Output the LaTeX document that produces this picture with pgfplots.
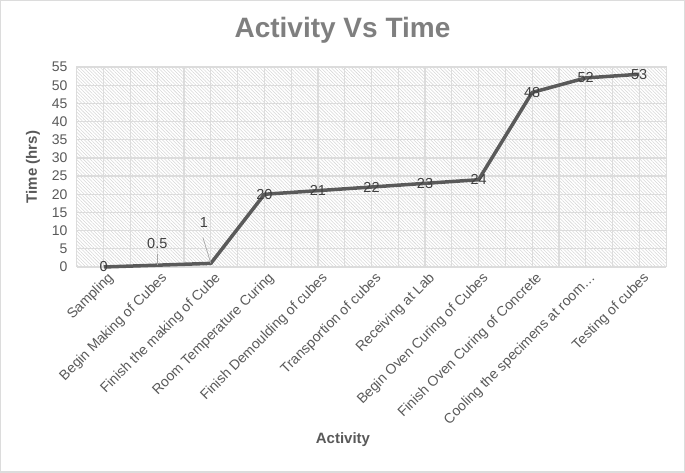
\documentclass[border=0pt]{standalone}
\usepackage{fontspec}
\setmainfont{Liberation Sans}
\usepackage{pgfplots}
\pgfplotsset{compat=1.18}
\usetikzlibrary{patterns.meta}
\definecolor{txt}{HTML}{595959}
\definecolor{ttl}{HTML}{7F7F7F}
\definecolor{grd}{HTML}{DCDCDC}
\definecolor{hatch}{HTML}{D6D6D6}
\definecolor{ln}{HTML}{5A5A5A}
\definecolor{lbl}{HTML}{404040}
\begin{document}
\begin{tikzpicture}[x=1pt,y=1pt]
\useasboundingbox (-77,-206) rectangle (608,267);
\draw[grd, line width=1.5pt] (-76.25,-205.25) rectangle (607.25,266.25);
\node[font=\bfseries\fontsize{28}{32}\selectfont, text=ttl] at (265.5,237) {Activity Vs Time};
\begin{axis}[at={(0,0)}, anchor=south west, scale only axis, width=589pt, height=200pt,
  xmin=-0.5, xmax=10.5, ymin=0, ymax=55,
  xtick={0,...,10}, minor xtick={0.5,1.5,...,9.5},
  xticklabels={Sampling, Begin Making of Cubes, Finish the making of  Cube, Room Temperature Curing, Finish Demoulding of cubes, Transportion of cubes, Receiving at Lab, Begin Oven Curing of Cubes, Finish Oven Curing of Concrete, Cooling the specimens at room…, Testing of cubes},
  ytick={0,5,...,55},
  xmajorgrids, xminorgrids, ymajorgrids,
  grid style={grd, line width=1.2pt}, minor grid style={grd, line width=1.2pt},
  major tick length=0pt, minor tick length=0pt,
  axis line style={grd, line width=1pt},
  axis background/.style={pattern={Lines[angle=-45,distance=2.4pt,line width=0.55pt]}, pattern color=hatch},
  /pgf/number format/assume math mode=true,
  ticklabel style={font=\fontsize{14}{16}\selectfont, text=txt},
  yticklabel style={anchor=east, xshift=-6pt},
  xticklabel style={rotate=45, anchor=north east, inner sep=1pt, yshift=-4pt},
  xlabel={Activity}, ylabel={Time (hrs)},
  label style={font=\bfseries\fontsize{15}{18}\selectfont, text=txt},
  xlabel style={at={(axis description cs:0.4516,-0.865)}, anchor=center},
  ylabel style={at={(axis description cs:-0.0747,0.5)}, anchor=center},
  clip=false,
  every node near coord/.append style={font=\fontsize{14.5}{16}\selectfont, text=lbl, anchor=center},
]
\addplot[ln, line width=3.5pt, line join=round] coordinates {
  (0,0) (1,0.5) (2,1) (3,20) (4,21) (5,22) (6,23) (7,24) (8,48) (9,52) (10,53)};
\addplot[draw=none, nodes near coords] coordinates {
  (0,0) (3,20) (4,21) (5,22) (6,23) (7,24) (8,48) (9,52) (10,53)};
\draw[gray!70, line width=0.7pt] (axis cs:1,0.5) -- ++(0pt,11pt);
\draw[gray!70, line width=0.7pt] (axis cs:2,1) -- ++(-8pt,26pt);
\addplot[draw=none, nodes near coords, every node near coord/.append style={yshift=22pt}] coordinates {(1,0.5)};
\addplot[draw=none, nodes near coords, every node near coord/.append style={yshift=41pt, xshift=-7pt}] coordinates {(2,1)};
\end{axis}
\end{tikzpicture}
\end{document}
